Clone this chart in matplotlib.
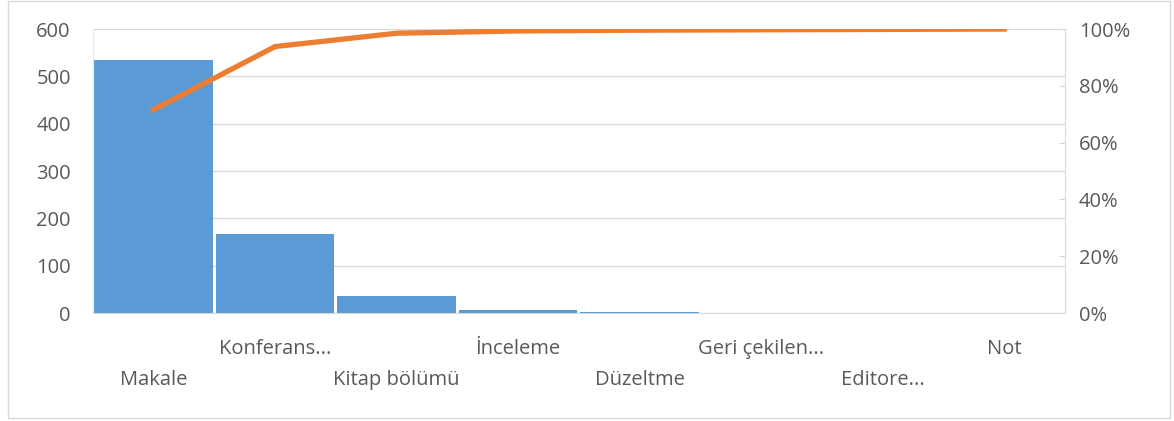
#!/usr/bin/env python3
"""
Pareto chart of publication types (counts + cumulative share).
"""

import numpy as np
import matplotlib.pyplot as plt
from matplotlib.patches import Rectangle
from matplotlib.ticker import FuncFormatter

categories = ["Makale", "Konferans...", "Kitap bölümü", "İnceleme",
              "Düzeltme", "Geri çekilen...", "Editore...", "Not"]
counts = [535, 166, 35, 6, 2, 1, 1, 1]
count_ticks = [0, 100, 200, 300, 400, 500, 600]
pct_ticks = [0, 20, 40, 60, 80, 100]


def main() -> None:
    plt.rcParams["font.family"] = ["Open Sans", "DejaVu Sans"]
    text_color = "#595959"
    grid_color = "#d9d9d9"
    fs = 14.5

    values = np.asarray(counts, dtype=float)
    cumulative = np.cumsum(values) / values.sum() * 100.0
    x = np.arange(len(categories))

    fig = plt.figure(figsize=(11.74, 4.21), dpi=100)
    ax = fig.add_axes([0.0792, 0.2565, 0.8278, 0.6745])

    ax.bar(x, values, width=0.975, color="#5b9bd5", edgecolor="none", zorder=2)
    ax.set_xlim(-0.5, len(categories) - 0.5)
    ax.set_ylim(0, 600)
    ax.set_yticks(count_ticks)
    ax.yaxis.grid(True, color=grid_color, linewidth=1.0, zorder=0)
    ax.set_axisbelow(True)
    ax.tick_params(axis="y", length=0, labelsize=fs, labelcolor=text_color, pad=16)

    # staggered category labels, two rows
    ax.set_xticks(x)
    ax.set_xticklabels([])
    ax.tick_params(axis="x", length=0)
    for i, name in enumerate(categories):
        y_off = -0.125 if i % 2 else -0.235
        ax.text(i, y_off, name, transform=ax.get_xaxis_transform(),
                ha="center", va="center", fontsize=fs, color=text_color)

    for side in ["top", "right"]:
        ax.spines[side].set_visible(False)
    ax.spines["left"].set_color("#ececec")
    ax.spines["bottom"].set_color(grid_color)

    ax2 = ax.twinx()
    ax2.plot(x, cumulative, color="#ed7d31", linewidth=3.8,
             solid_capstyle="projecting", zorder=3)
    ax2.set_ylim(0, 100)
    ax2.set_yticks(pct_ticks)
    ax2.yaxis.set_major_formatter(FuncFormatter(lambda v, _: f"{v:.0f}%"))
    ax2.tick_params(axis="y", length=4, direction="in", color=grid_color,
                    labelsize=fs, labelcolor=text_color, pad=10)
    for side in ["top", "left", "bottom"]:
        ax2.spines[side].set_visible(False)
    ax2.spines["right"].set_color(grid_color)

    # light frame around the chart
    fig.patches.append(Rectangle((0.007, 0.008), 0.99, 0.99, transform=fig.transFigure,
                                 fill=False, edgecolor="#d9d9d9", linewidth=1.0))

    fig.savefig("out.png", dpi=100, facecolor="white")


if __name__ == "__main__":
    main()
